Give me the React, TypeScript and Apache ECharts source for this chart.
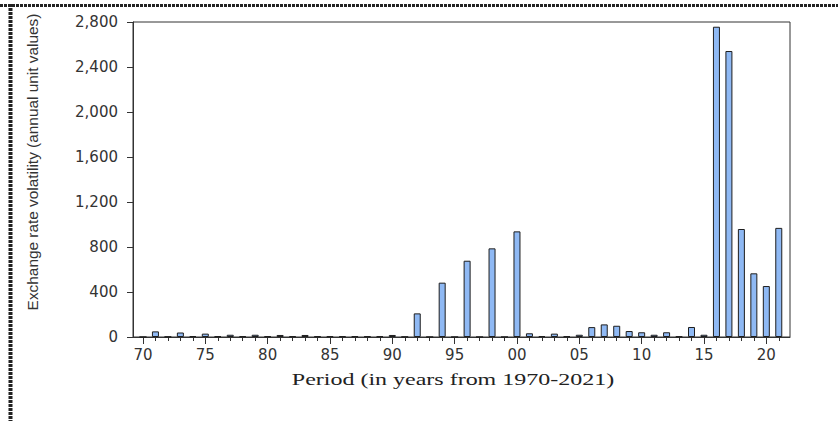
import React, { useEffect, useRef } from "react";
import * as echarts from "echarts";

const years: number[] = [
  1970, 1971, 1972, 1973, 1974, 1975, 1976, 1977, 1978, 1979,
  1980, 1981, 1982, 1983, 1984, 1985, 1986, 1987, 1988, 1989,
  1990, 1991, 1992, 1993, 1994, 1995, 1996, 1997, 1998, 1999,
  2000, 2001, 2002, 2003, 2004, 2005, 2006, 2007, 2008, 2009,
  2010, 2011, 2012, 2013, 2014, 2015, 2016, 2017, 2018, 2019,
  2020, 2021,
];

const volatility: number[] = [
  0, 50, 3, 40, 8, 30, 6, 20, 6, 20,
  6, 18, 6, 18, 6, 6, 6, 6, 6, 6,
  18, 2, 210, 0, 483, 0, 678, 0, 788, 0,
  939, 33, 8, 30, 6, 20, 88, 112, 100, 53,
  42, 20, 42, 5, 89, 20, 2758, 2542, 960, 566,
  453, 970,
];

const majorYears: number[] = [1970, 1975, 1980, 1985, 1990, 1995, 2000, 2005, 2010, 2015, 2020];

const yTitle = "Exchange rate volatility (annual unit values)";
const xTitle = "Period (in years from 1970-2021)";

export default function App() {
  const ref = useRef<HTMLDivElement>(null);

  useEffect(() => {
    if (!ref.current) return;
    const chart = echarts.init(ref.current, null, { renderer: "svg" });
    const axisColor = "#333333";
    const labelFont = { fontFamily: "DejaVu Sans", fontSize: 15, color: "#333333" };
    chart.setOption({
      animation: false,
      backgroundColor: "#ffffff",
      grid: {
        left: 133,
        right: 48,
        top: 22,
        bottom: 84,
        show: true,
        borderColor: axisColor,
        borderWidth: 1,
        backgroundColor: "transparent",
      },
      xAxis: [
        {
          type: "value",
          min: 1969.2,
          max: 2021.9,
          axisLine: { show: true, lineStyle: { color: axisColor, width: 1 } },
          axisTick: {
            show: true,
            customValues: years,
            length: 4,
            lineStyle: { color: axisColor, width: 1 },
          },
          axisLabel: {
            show: true,
            customValues: majorYears,
            margin: 10,
            formatter: (v: number) => String(Math.round(v) % 100).padStart(2, "0"),
            ...labelFont,
          },
          splitLine: { show: false },
        },
        {
          type: "value",
          min: 1969.2,
          max: 2021.9,
          position: "bottom",
          axisLine: { show: false },
          axisTick: {
            show: true,
            customValues: majorYears,
            length: 7,
            lineStyle: { color: axisColor, width: 1 },
          },
          axisLabel: { show: false },
          splitLine: { show: false },
        },
      ],
      yAxis: {
        type: "value",
        min: 0,
        max: 2800,
        interval: 400,
        axisLine: { show: true, lineStyle: { color: axisColor, width: 1 } },
        axisTick: { show: true, length: 6, lineStyle: { color: axisColor } },
        axisLabel: {
          margin: 15,
          formatter: (v: number) => v.toLocaleString("en-US"),
          ...labelFont,
        },
        splitLine: { show: false },
      },
      series: [
        {
          type: "bar",
          xAxisIndex: 0,
          barWidth: 7,
          data: years.map((y, i) => [y, volatility[i]]),
          itemStyle: {
            color: "#8fb9f4",
            borderColor: "#1e1e1e",
            borderWidth: 1,
          },
        },
      ],
      graphic: [
        {
          type: "line",
          shape: { x1: 0, y1: 5.5, x2: 838, y2: 5.5 },
          style: { stroke: "#222222", lineWidth: 3, lineDash: [3, 1] },
          silent: true,
        },
        {
          type: "line",
          shape: { x1: 10.5, y1: 4, x2: 10.5, y2: 421 },
          style: { stroke: "#222222", lineWidth: 4, lineDash: [3, 1] },
          silent: true,
        },
        {
          type: "text",
          x: 33,
          y: 162,
          rotation: Math.PI / 2,
          scaleX: 1.1,
          style: {
            text: yTitle,
            fontFamily: "Liberation Sans, Arial, sans-serif",
            fontSize: 14,
            fill: "#333333",
            textAlign: "center",
            textVerticalAlign: "middle",
          },
        },
        {
          type: "text",
          x: 453,
          y: 380,
          scaleX: 1.5,
          style: {
            text: xTitle,
            fontFamily: "Liberation Serif, Times New Roman, serif",
            fontSize: 16,
            fill: "#222222",
            textAlign: "center",
            textVerticalAlign: "middle",
          },
        },
      ],
    });
    return () => chart.dispose();
  }, []);

  return (
    <div
      ref={ref}
      style={{ position: "absolute", left: 0, top: 0, width: 838, height: 421 }}
    />
  );
}
